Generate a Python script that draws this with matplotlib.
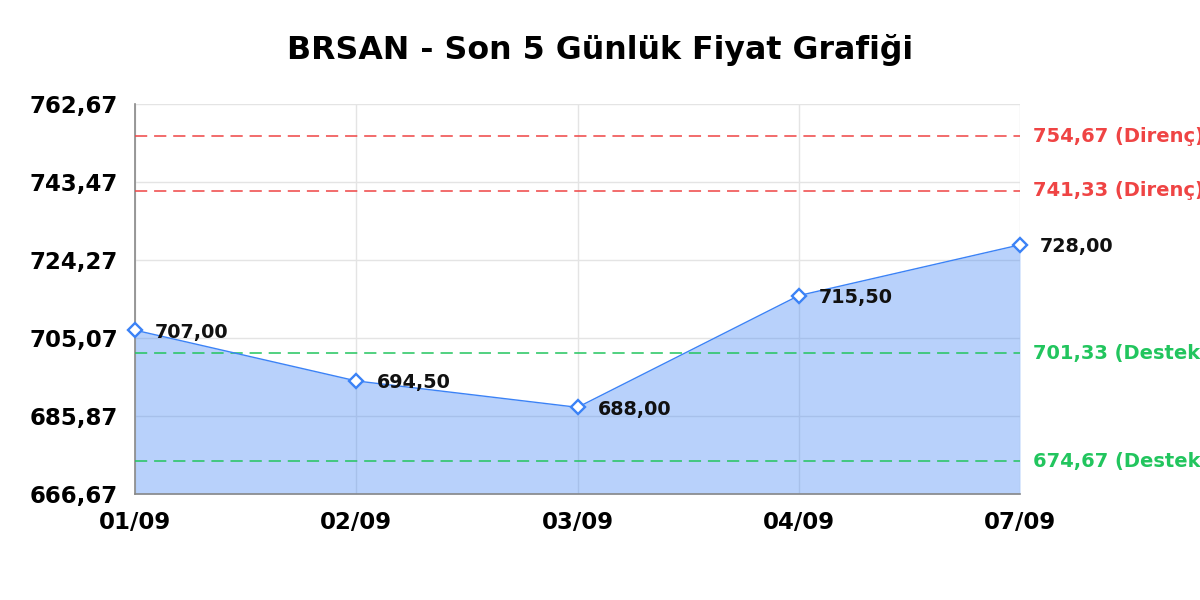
import matplotlib
matplotlib.use("Agg")
import matplotlib.pyplot as plt
import numpy as np

dates = ["01/09", "02/09", "03/09", "04/09", "07/09"]
prices = [707.00, 694.50, 688.00, 715.50, 728.00]
resistance = [754.67, 741.33]
support = [701.33, 674.67]
y_ticks = [666.67, 685.87, 705.07, 724.27, 743.47, 762.67]


def tr(v):
    # turkish decimal comma
    return f"{v:.2f}".replace(".", ",")


plt.rcParams['font.family'] = ['DejaVu Sans']

fig = plt.figure(figsize=(12, 6), dpi=100)
ax = fig.add_axes([0.1125, 0.1767, 0.7375, 0.65])

x = np.arange(len(dates))
ax.fill_between(x, prices, y_ticks[0], color='#3b82f6', alpha=0.36, linewidth=0, zorder=2)
ax.plot(x, prices, color='#3b82f6', linewidth=1.0, marker='D', markersize=7,
        markerfacecolor='white', markeredgecolor='#3b82f6', markeredgewidth=1.7,
        zorder=4, clip_on=False)

for xi, p in zip(x, prices):
    ax.annotate(tr(p), (xi, p), xytext=(14.5, -5.3),
                textcoords='offset points', ha='left', va='baseline',
                fontsize=13.8, fontweight='bold', color='#111111', zorder=5,
                annotation_clip=False)

for r in resistance:
    ax.axhline(r, color='#ef4444', linestyle=(0, (8, 4.5)), linewidth=1.1, zorder=3)
    ax.text(1.0147, r, tr(r) + " (Direnç)", transform=ax.get_yaxis_transform(),
            color='#ef4444', fontsize=14, fontweight='bold', va='center', ha='left', clip_on=False)
for s in support:
    ax.axhline(s, color='#22c55e', linestyle=(0, (8, 4.5)), linewidth=1.1, zorder=3)
    ax.text(1.0147, s, tr(s) + " (Destek)", transform=ax.get_yaxis_transform(),
            color='#22c55e', fontsize=14, fontweight='bold', va='center', ha='left', clip_on=False)

ax.set_xlim(0, len(dates) - 1)
ax.set_ylim(y_ticks[0], y_ticks[-1])
ax.set_xticks(x)
ax.set_xticklabels(dates, fontsize=16.5, fontweight='bold')
ax.set_yticks(y_ticks)
ax.set_yticklabels([tr(v) for v in y_ticks], fontsize=16.5, fontweight='bold')
ax.tick_params(length=0, pad=12)
ax.grid(True, color='#e4e4e4', linewidth=1.0, zorder=1)
ax.set_axisbelow(True)

for side in ['top', 'right']:
    ax.spines[side].set_visible(False)
for side in ['left', 'bottom']:
    ax.spines[side].set_color('#888888')
    ax.spines[side].set_linewidth(1.2)

fig.text(0.5, 1 - 59 / 600, "BRSAN - Son 5 Günlük Fiyat Grafiği", fontsize=22.8,
         fontweight='bold', ha='center', va='baseline')

fig.savefig("out.png", dpi=100)
